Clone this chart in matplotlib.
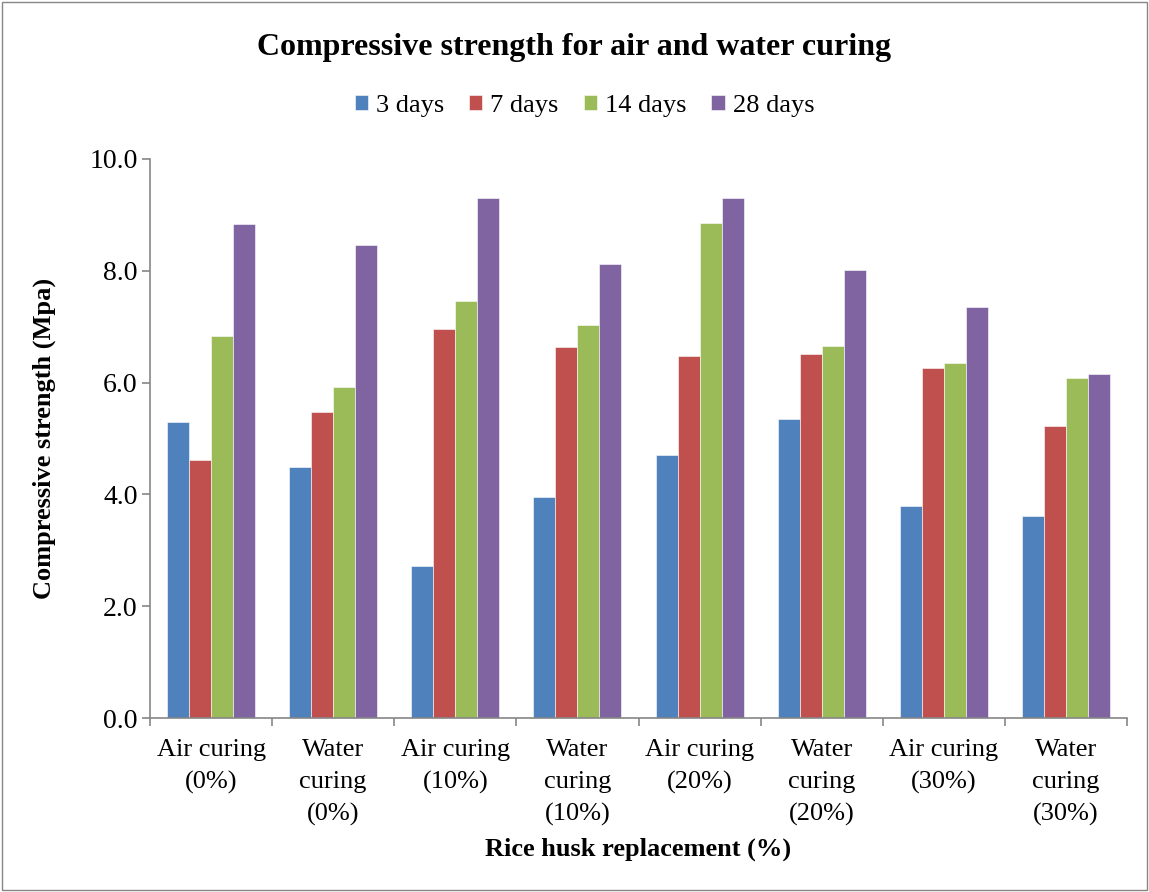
import matplotlib

matplotlib.use("Agg")
import matplotlib.pyplot as plt
import numpy as np
from matplotlib.patches import Rectangle

plt.rcParams["font.family"] = ["Liberation Serif", "DejaVu Serif"]

categories = [
    "Air curing\n(0%)",
    "Water\ncuring\n(0%)",
    "Air curing\n(10%)",
    "Water\ncuring\n(10%)",
    "Air curing\n(20%)",
    "Water\ncuring\n(20%)",
    "Air curing\n(30%)",
    "Water\ncuring\n(30%)",
]
series_names = ["3 days", "7 days", "14 days", "28 days"]
days_3 = [5.29, 4.49, 2.72, 3.96, 4.71, 5.34, 3.79, 3.62]
days_7 = [4.62, 5.48, 6.95, 6.64, 6.48, 6.51, 6.26, 5.23]
days_14 = [6.83, 5.92, 7.46, 7.03, 8.86, 6.66, 6.35, 6.08]
days_28 = [8.84, 8.46, 9.31, 8.12, 9.31, 8.02, 7.36, 6.16]
colors = ["#4F81BD", "#C0504D", "#9BBB59", "#8064A2"]

fig = plt.figure(figsize=(11.49, 8.92), dpi=100)
ax = fig.add_axes([150 / 1149, 1 - 718 / 892, (1127 - 150) / 1149, (718 - 159) / 892])

x = np.arange(len(categories))
width = 0.18
for i, (name, vals) in enumerate(zip(series_names, [days_3, days_7, days_14, days_28])):
    ax.bar(x + (i - 1.5) * width, vals, width, color=colors[i], label=name,
           edgecolor="white", linewidth=0.4)

ax.set_xlim(-0.5, len(categories) - 0.5)
ax.set_ylim(0, 10)
ax.set_yticks(np.arange(0, 10.1, 2.0))
ax.set_yticklabels([f"{v:.1f}" for v in np.arange(0, 10.1, 2.0)], fontsize=20)

# group separators as x ticks, labels centred under each group
ax.set_xticks(np.arange(-0.5, len(categories), 1.0))
ax.set_xticklabels([])
ax.set_xticks(x, minor=True)
ax.set_xticklabels(categories, minor=True, fontsize=19, linespacing=1.58)
ax.tick_params(axis="x", which="minor", length=0, pad=15)
ax.tick_params(axis="x", which="major", length=6, color="#868686", width=1.2)
ax.tick_params(axis="y", length=6, color="#868686", width=1.2, pad=3)

for side in ["top", "right"]:
    ax.spines[side].set_visible(False)
for side in ["left", "bottom"]:
    ax.spines[side].set_color("#868686")
    ax.spines[side].set_linewidth(1.2)

ax.set_xlabel("Rice husk replacement (%)", fontsize=19, fontweight="bold", labelpad=8)
ax.set_ylabel("Compressive strength (Mpa)", fontsize=19, fontweight="bold", labelpad=24)

fig.suptitle("Compressive strength for air and water curing", fontsize=23,
             fontweight="bold", y=1 - 47 / 892, va="center")
fig.legend(loc="center", bbox_to_anchor=(0.5 + 10 / 1149, 1 - 106 / 892), ncol=4,
           frameon=False, fontsize=19, handlelength=0.5, handleheight=0.5,
           handletextpad=0.3, columnspacing=0.95)

fig.patches.append(Rectangle((2 / 1149, 2 / 892), 1 - 4 / 1149, 1 - 4 / 892,
                             transform=fig.transFigure, fill=False,
                             edgecolor="#868686", linewidth=1.0))

fig.savefig("out.png", dpi=100)
